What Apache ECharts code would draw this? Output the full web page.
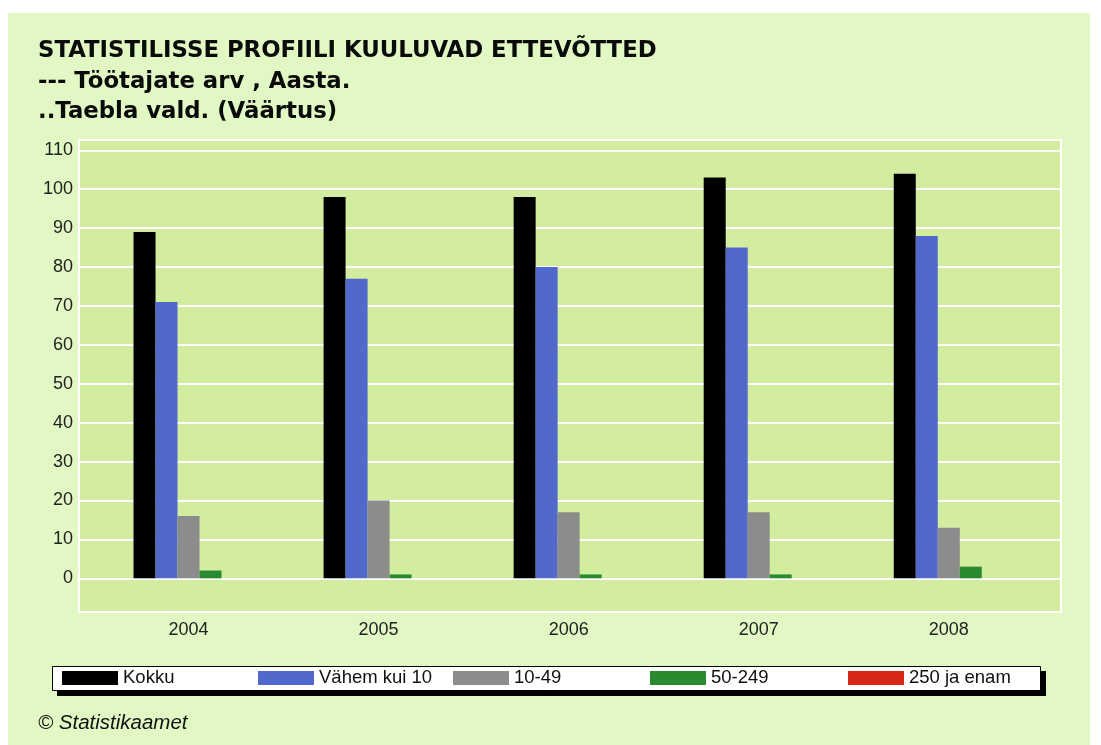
<!DOCTYPE html>
<html>
<head>
<meta charset="utf-8">
<style>
  html, body { margin: 0; padding: 0; background: #ffffff; }
  #panel { position: absolute; left: 8px; top: 13px; width: 1082px; height: 732px; background: #e2f8c4; }
  #chart { position: absolute; left: 0; top: 0; width: 1101px; height: 745px; }
</style>
<script src="https://cdn.jsdelivr.net/npm/echarts@6/dist/echarts.min.js"></script>
</head>
<body>
<div id="panel"></div>
<div id="chart"></div>
<script>
// data
const years = ['2004', '2005', '2006', '2007', '2008']
const seriesNames = ['Kokku', 'Vähem kui 10', '10-49', '50-249', '250 ja enam']
const kokku = [89, 98, 98, 103, 104]
const vahemKui10 = [71, 77, 80, 85, 88]
const v10to49 = [16, 20, 17, 17, 13]
const v50to249 = [2, 1, 1, 1, 3]
const v250jaEnam = [0, 0, 0, 0, 0]
const yTicks = { min: 0, max: 110, interval: 10 }

const colorList = ['#000000', '#5269cc', '#8c8c8c', '#2a8a30', '#d62814']
const seriesData = [kokku, vahemKui10, v10to49, v50to249, v250jaEnam]
// legend columns (x of each swatch)
const legendLeft = [62, 258, 453, 650, 848]

const chart = echarts.init(document.getElementById('chart'))

const series = seriesNames.map((name, i) => {
  return {
    name: name,
    type: 'bar',
    xAxisIndex: 2,
    yAxisIndex: 2,
    barWidth: 22,
    barGap: '0%',
    itemStyle: { color: colorList[i] },
    data: seriesData[i]
  }
})

// one legend per column so the items sit on a fixed grid like the original
const legends = seriesNames.map((name, i) => {
  return {
    left: legendLeft[i],
    top: 668,
    padding: 0,
    itemWidth: 56,
    itemHeight: 14,
    icon: 'rect',
    selectedMode: false,
    textStyle: { fontSize: 18.5, lineHeight: 20, color: '#111111' },
    data: [name]
  }
})

chart.setOption({
  textStyle: { fontFamily: 'Liberation Sans, Arial, sans-serif' },
  animation: false,
  title: [{
    text: 'STATISTILISSE PROFIILI KUULUVAD ETTEVÕTTED\n--- Töötajate arv , Aasta.\n..Taebla vald. (Väärtus)',
    left: 38,
    top: 36,
    padding: 0,
    textStyle: {
      fontFamily: 'DejaVu Sans',
      fontWeight: 'bold',
      fontSize: 22.8,
      lineHeight: 30.5,
      color: '#0a0a0a'
    }
  }, {
    text: '© Statistikaamet',
    left: 38,
    top: 713,
    padding: 0,
    textStyle: {
      fontStyle: 'italic',
      fontWeight: 'normal',
      fontSize: 20.5,
      color: '#111111'
    }
  }],
  // legend frame: hard black drop shadow, then the white box on top
  graphic: [{
    type: 'rect',
    z: 0,
    shape: { x: 57, y: 671, width: 989, height: 25 },
    style: { fill: '#000000' }
  }, {
    type: 'rect',
    z: 1,
    shape: { x: 52.5, y: 666.5, width: 988, height: 24 },
    style: { fill: '#ffffff', stroke: '#000000', lineWidth: 1 }
  }],
  legend: legends,
  grid: [
    // plot background
    { left: 79, right: 40, top: 140, bottom: 133, show: true, backgroundColor: '#d2eda0', borderColor: '#ffffff', borderWidth: 2 },
    // full width split lines + y labels
    { left: 79, right: 40, top: 150.3, bottom: 166.7 },
    // bars
    { left: 93.5, right: 57.2, top: 150.3, bottom: 166.7 }
  ],
  xAxis: [
    { gridIndex: 0, type: 'value', show: false },
    { gridIndex: 1, type: 'value', show: false },
    {
      gridIndex: 2,
      type: 'category',
      data: years,
      axisLine: { show: false },
      axisTick: { show: false },
      axisLabel: { margin: 43, fontSize: 18, color: '#222222' }
    }
  ],
  yAxis: [
    { gridIndex: 0, type: 'value', show: false },
    {
      gridIndex: 1,
      type: 'value',
      min: yTicks.min,
      max: yTicks.max,
      interval: yTicks.interval,
      z: 1,
      axisLine: { show: false },
      axisTick: { show: false },
      axisLabel: { margin: 6, fontSize: 18, color: '#222222' },
      splitLine: { lineStyle: { color: '#ffffff', width: 2 } }
    },
    {
      gridIndex: 2,
      type: 'value',
      min: yTicks.min,
      max: yTicks.max,
      interval: yTicks.interval,
      axisLine: { show: false },
      axisTick: { show: false },
      axisLabel: { show: false },
      splitLine: { show: false }
    }
  ],
  series: series
})
</script>
</body>
</html>
